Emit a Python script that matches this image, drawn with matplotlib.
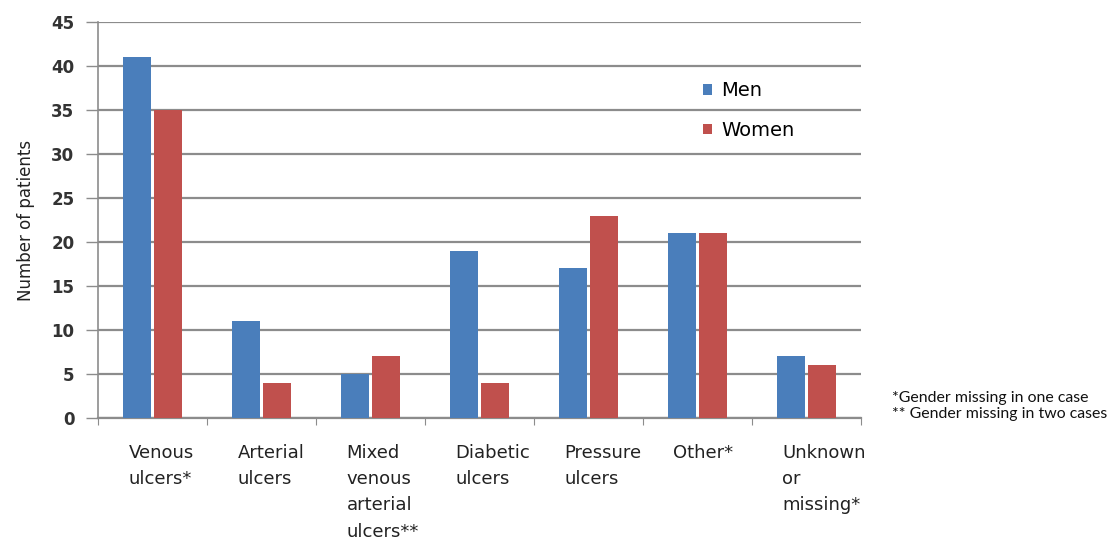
import numpy as np
import matplotlib.pyplot as plt

categories = ['Venous\nulcers*', 'Arterial\nulcers', 'Mixed\nvenous\narterial\nulcers**',
              'Diabetic\nulcers', 'Pressure\nulcers', 'Other*', 'Unknown\nor\nmissing*']
men = [41, 11, 5, 19, 17, 21, 7]
women = [35, 4, 7, 4, 23, 21, 6]
y_ticks = [0, 5, 10, 15, 20, 25, 30, 35, 40, 45]
footnote = '*Gender missing in one case\n** Gender missing in two cases'

blue = '#4a7ebb'
red = '#c0504d'
grid_col = '#8c8c8c'

fig = plt.figure(figsize=(11.17, 5.42), dpi=100)
ax = fig.add_axes([0.0877, 0.229, 0.683, 0.73])

x = np.arange(len(categories))
w = 0.26
ax.bar(x - w / 2 - 0.014, men, width=w, color=blue, label='Men', zorder=3)
ax.bar(x + w / 2 + 0.014, women, width=w, color=red, label='Women', zorder=3)

ax.set_xlim(-0.5, len(categories) - 0.5)
ax.set_ylim(0, 45)
ax.set_yticks(y_ticks)
ax.yaxis.grid(True, color=grid_col, linewidth=1.6, zorder=0)
ax.tick_params(axis='y', labelsize=12, length=9, width=1, direction='out',
               pad=8, color=grid_col, labelcolor='#333333')
for t in ax.get_yticklabels():
    t.set_fontweight('bold')

# category boundary ticks on the x axis, wrapped labels under each group
ax.set_xticks(np.arange(len(categories) + 1) - 0.5)
ax.set_xticklabels([])
ax.tick_params(axis='x', length=5, color=grid_col, direction='out')
for i, lab in enumerate(categories):
    ax.text(x[i] - 0.22, -0.065, lab, transform=ax.get_xaxis_transform(),
            ha='left', va='top', fontsize=13, color='#222222', linespacing=1.6)

for s in ['top', 'right']:
    ax.spines[s].set_visible(False)
ax.spines['left'].set_color(grid_col)
ax.spines['bottom'].set_color(grid_col)
ax.spines['left'].set_linewidth(1.2)
ax.spines['bottom'].set_linewidth(1.6)

ax.set_ylabel('Number of patients', fontsize=12, color='#222222', labelpad=12)

ax.legend(loc='upper left', bbox_to_anchor=(0.77, 0.895), frameon=False,
          fontsize=14, handlelength=0.45, handleheight=0.45,
          labelspacing=1.05, handletextpad=0.5)

fig.text(0.799, 0.251, footnote, fontsize=11.4, family='Lato', va='center',
         ha='left', color='#111111', linespacing=1.2)

fig.savefig('out.png', dpi=100)
